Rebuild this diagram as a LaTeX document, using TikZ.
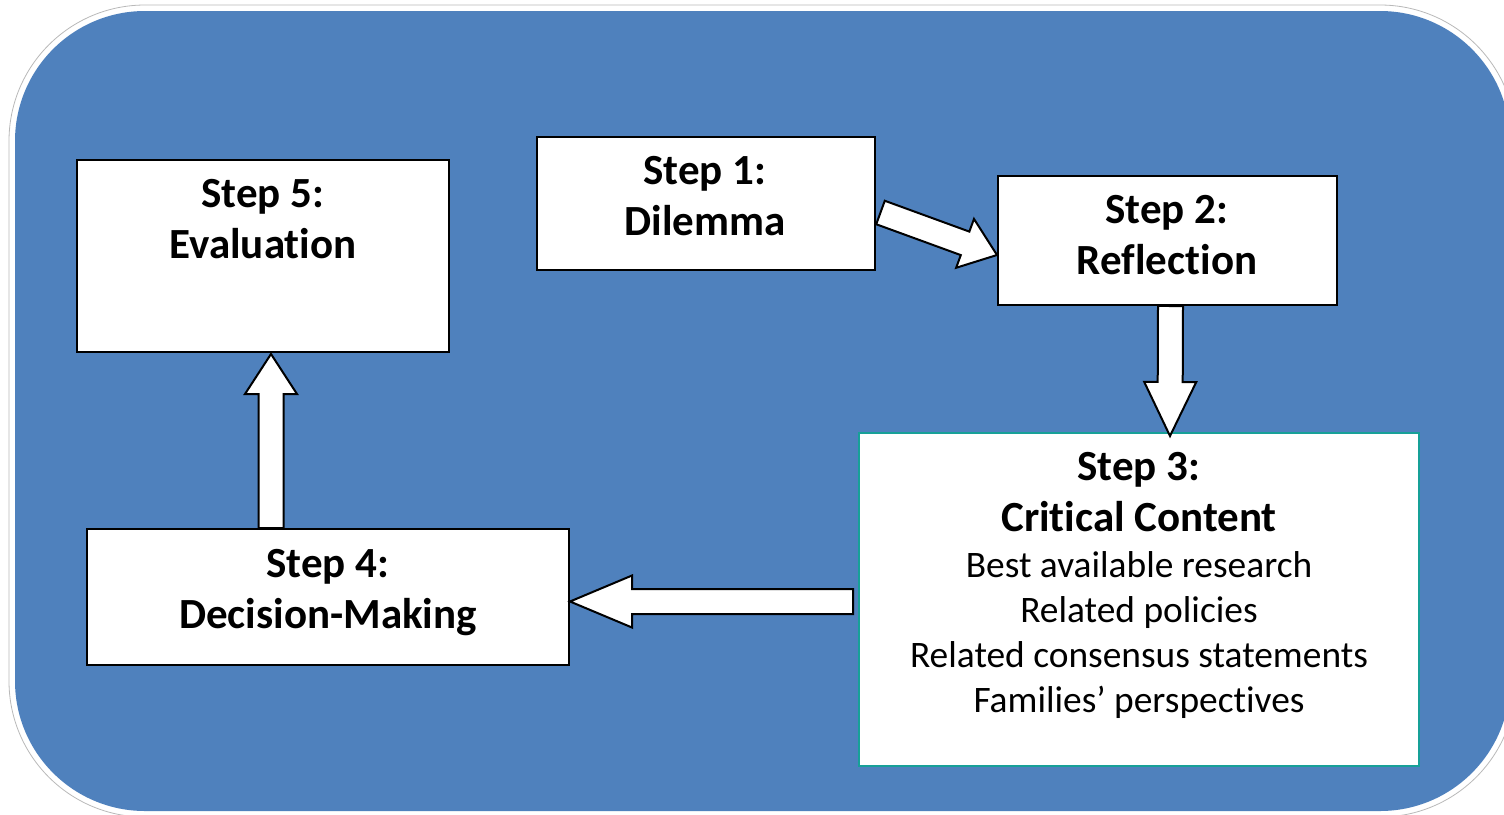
\documentclass[tikz,border=0pt]{standalone}
\usepackage{fontspec}
\setmainfont[Ligatures={NoCommon}]{Carlito}
\usetikzlibrary{calc}

\definecolor{bgblue}{RGB}{79,129,189}
\definecolor{boxteal}{RGB}{23,160,152}

\tikzset{
  stepbox/.style={draw=black,fill=white,line width=1pt,inner sep=0pt},
  steptitle/.style={font=\fontsize{21.5}{25.5}\selectfont\bfseries,align=center,inner sep=0pt},
  steptext/.style={font=\fontsize{18.7}{22.6}\selectfont,align=center,inner sep=0pt},
  arrowshape/.style={draw=black,fill=white,line width=1pt,line join=miter}
}

% #1 head length, #2 tail, #3 tip
\newcommand\blockarrow[3]{%
  \coordinate (hb) at ($(#3)!#1!(#2)$);
  \draw[arrowshape] ($(#2)!6.25pt!-90:(#3)$) -- ($(hb)!6.25pt!-90:(#3)$)
    -- ($(hb)!13pt!-90:(#3)$) -- (#3) -- ($(hb)!13pt!90:(#3)$)
    -- ($(hb)!6.25pt!90:(#3)$) -- ($(#2)!6.25pt!90:(#3)$) -- cycle;
}

\begin{document}
\begin{tikzpicture}[x=0.5pt,y=-0.5pt]
  \useasboundingbox (0,0) rectangle (1504,814);
  \clip (0,0) rectangle (1504,814);
  \filldraw[fill=white,draw=gray!55,line width=0.4pt,rounded corners=68pt] (9,5) rectangle (1516,817);
  \fill[bgblue,rounded corners=65pt] (15,11) rectangle (1510,811);

  \node[stepbox,minimum width=186pt,minimum height=96pt] (s5) at (263,256) {};
  \node[stepbox,minimum width=169pt,minimum height=66.5pt] (s1) at (706,203.5) {};
  \node[stepbox,minimum width=169.5pt,minimum height=64.5pt] (s2) at (1167.5,240.5) {};
  \node[stepbox,draw=boxteal,minimum width=280pt,minimum height=166.5pt] (s3) at (1139,599.5) {};
  \node[stepbox,minimum width=241pt,minimum height=68pt] (s4) at (328,597) {};

  \node[steptitle] (s5t) at (263,219) {Step 5:\\Evaluation};
  \node[steptitle] (s1t) at (705,196.5) {Step 1:\\Dilemma};
  \node[steptitle] (s2t) at (1167,235) {Step 2:\\Reflection};
  \node[steptitle] (s3t) at (1139,492.5) {Step 3:\\Critical Content};
  \node[steptext] (s3l) at (1139,635) {Best available research\\Related policies\\Related consensus statements\\Families’ perspectives};
  \node[steptitle] (s4t) at (328,592.5) {Step 4:\\Decision-Making};

  \coordinate (a12t) at ($(s1.east)+(4.5,9)$);
  \coordinate (a12h) at ($(s2.west)+(0,14.5)$);
  \coordinate (a23t) at ($(s2.south)+(3,0)$);
  \coordinate (a23h) at ($(s3.north)+(31,4)$);
  \coordinate (a34t) at ($(s3.west)+(-5,2)$);
  \coordinate (a34h) at (s4.east |- a34t);
  \coordinate (a45h) at ($(s5.south)+(8,1)$);
  \coordinate (a45t) at (a45h |- s4.north);

  \blockarrow{17pt}{a12t}{a12h}
  \blockarrow{27pt}{a23t}{a23h}
  \blockarrow{31pt}{a34t}{a34h}
  \blockarrow{20pt}{a45t}{a45h}
\end{tikzpicture}
\end{document}
